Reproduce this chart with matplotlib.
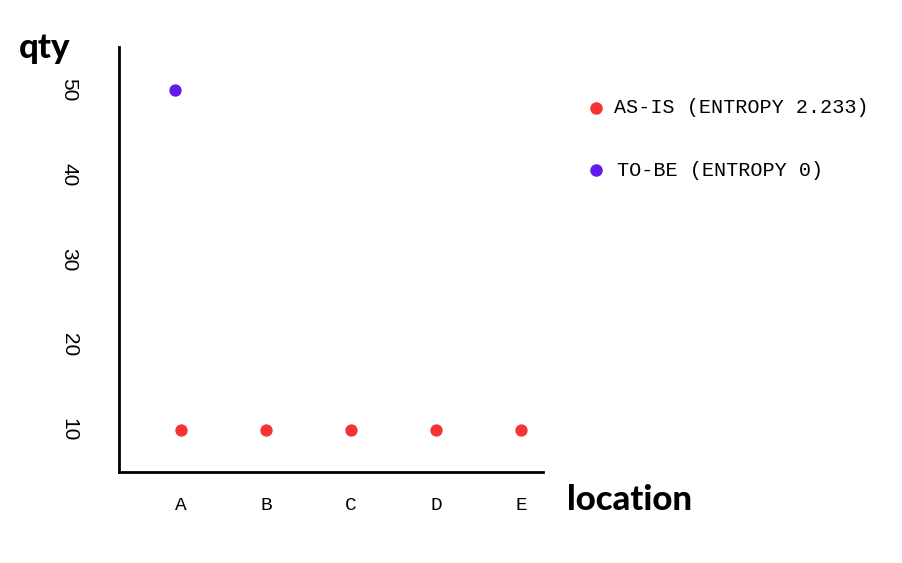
import matplotlib
matplotlib.use("Agg")
import matplotlib.pyplot as plt
import numpy as np

locations = ["A", "B", "C", "D", "E"]
as_is_qty = [10, 10, 10, 10, 10]
to_be_locations = ["A"]
to_be_qty = [50]
as_is_label = "AS-IS (ENTROPY 2.233)"
to_be_label = "TO-BE (ENTROPY 0)"
y_ticks = [10, 20, 30, 40, 50]

red = "#F43434"
purple = "#611BEA"

fig = plt.figure(figsize=(9.03, 5.63), dpi=100)
ax = fig.add_axes([0.1318, 0.1616, 0.4695, 0.7549])

xpos = {c: i for i, c in enumerate(locations)}
ax.scatter([xpos[c] for c in locations], as_is_qty, s=62, color=red, zorder=3)
ax.scatter([xpos[c] - 0.07 for c in to_be_locations], to_be_qty, s=62, color=purple, zorder=3)

ax.set_xlim(-0.73, 4.26)
ax.set_ylim(5, 55)
ax.set_xticks(range(len(locations)))
ax.set_xticklabels(locations, family="Liberation Mono", fontsize=14)
ax.set_yticks(y_ticks)
ax.set_yticklabels([str(v) for v in y_ticks], family="Liberation Sans", fontsize=15,
                   rotation=-90, va="center", ha="center")
ax.tick_params(axis="both", length=0)
ax.tick_params(axis="x", pad=18)
ax.tick_params(axis="y", pad=36)
for s in ["top", "right"]:
    ax.spines[s].set_visible(False)
for s in ["left", "bottom"]:
    ax.spines[s].set_linewidth(2.0)
    ax.spines[s].set_color("black")

fig.text(19 / 903, 1 - 58 / 563, "qty", family="Lato", weight="black", fontsize=25, ha="left", va="baseline")
fig.text(567 / 903, 1 - 510 / 563, "location", family="Lato", weight="black", fontsize=25, ha="left", va="baseline")

# legend
fig.lines.append(plt.Line2D([596 / 903], [1 - 108 / 563], marker="o", color=red, markersize=8,
                            transform=fig.transFigure, linestyle="none"))
fig.lines.append(plt.Line2D([596 / 903], [1 - 170 / 563], marker="o", color=purple, markersize=8,
                            transform=fig.transFigure, linestyle="none"))
fig.text(614 / 903, 1 - 108 / 563, as_is_label, family="Liberation Mono", fontsize=14.5, ha="left", va="center")
fig.text(617 / 903, 1 - 170 / 563, to_be_label, family="Liberation Mono", fontsize=14.5, ha="left", va="center")

fig.savefig("out.png", dpi=100, facecolor="white")
